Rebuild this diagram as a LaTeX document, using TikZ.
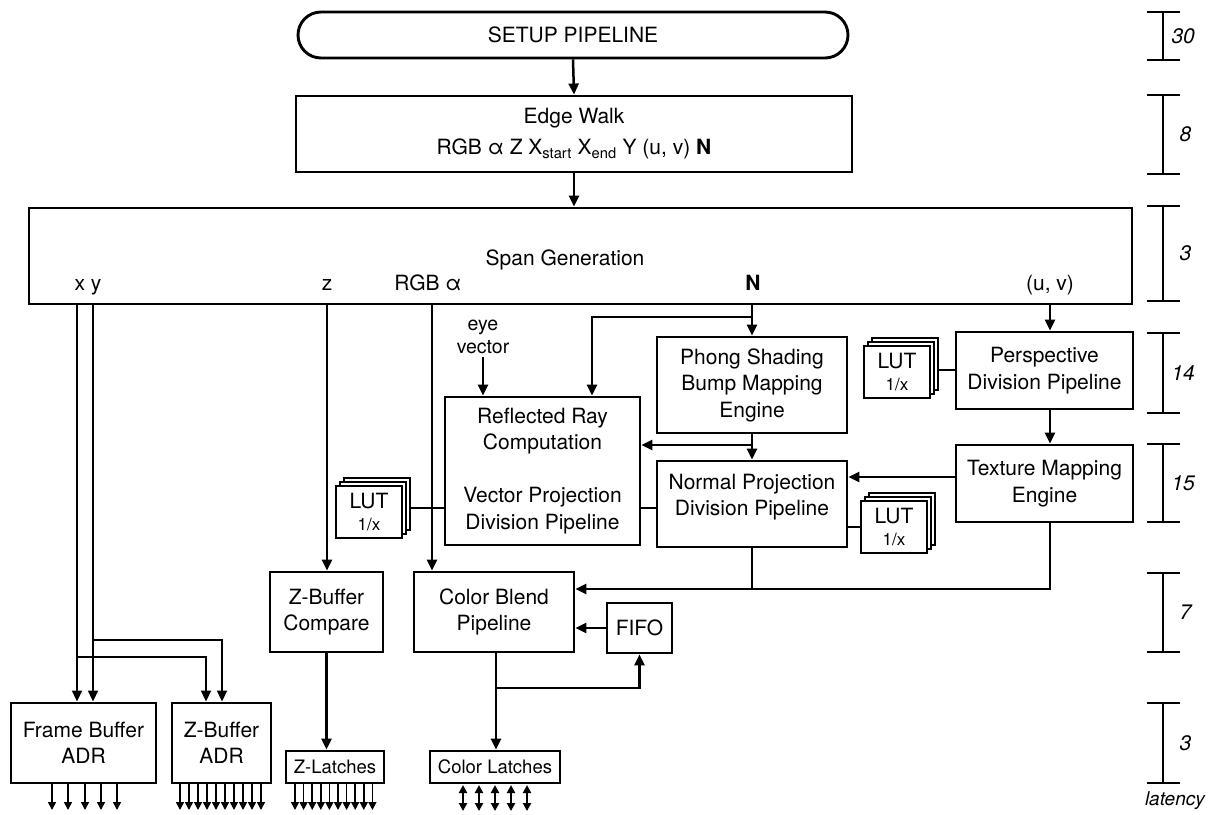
\documentclass[tikz,border=0pt]{standalone}
\usepackage{fontspec}
\setmainfont{TeX Gyre Heros}
\usetikzlibrary{arrows.meta}
\newcommand{\fmain}{\fontsize{21}{26.5}\selectfont}
\newcommand{\fedge}{\fontsize{21}{31}\selectfont}
\newcommand{\flatch}{\fontsize{18.5}{22}\selectfont}
\newcommand{\feye}{\fontsize{19.5}{23}\selectfont}
\newcommand{\flutsmall}{\fontsize{17}{18}\selectfont}
\newcommand{\flatency}{\fontsize{21}{24}\selectfont\itshape}
\newcommand{\flatword}{\fontsize{19}{22}\selectfont\itshape}
\tikzset{
  box/.style={draw, line width=2.9pt, fill=white, inner sep=0pt, align=center, font=\fmain},
  conn/.style={line width=2.5pt},
  arr/.style={conn, -{Triangle[length=11pt,width=10pt]}},
  thinl/.style={line width=1.8pt},
  tarr/.style={thinl, -{Triangle[length=11pt,width=10pt]}},
  sarr/.style={line width=1.6pt, -{Triangle[length=8pt,width=8pt]}},
  darr/.style={line width=2pt, {Triangle[length=8pt,width=8pt]}-{Triangle[length=8pt,width=8pt]}},
  lutbox/.style={draw, line width=2.4pt, fill=white, minimum width=66pt, minimum height=52pt, inner sep=0pt, align=center, font=\fmain},
  latbar/.style={line width=2.2pt},
  latnum/.style={font=\flatency, anchor=west},
  lbl/.style={font=\fmain, anchor=base}
}
\begin{document}
\begin{tikzpicture}[x=1pt,y=-1pt]
\useasboundingbox (0,0) rectangle (1209,814);

% ---------- boxes ----------
\node[box, minimum width=550pt, minimum height=46pt, rounded corners=23pt] (setup) at (573,35) {SETUP PIPELINE};
\node[box, minimum width=556pt, minimum height=76pt, font=\fedge] (edge) at (574,134) {Edge Walk\\RGB α Z X\textsubscript{start} X\textsubscript{end} Y (u, v) \textbf{N}};
\node[box, minimum width=1103pt, minimum height=96pt] (span) at (580.5,256) {};
\node[lbl] (spant) at (565,265) {Span Generation};
\node[lbl] (lxy) at (88,290) {x y};
\node[lbl] (lz) at (327,290) {z};
\node[lbl] (lrgb) at (428,290) {RGB α};
\node[lbl] (ln) at (753,290) {\textbf{N}};
\node[lbl] (luv) at (1050,290) {(u, v)};

\node[box, minimum width=190pt, minimum height=96pt] (phong) at (752,385) {Phong Shading\\Bump Mapping\\Engine};
\node[box, minimum width=195pt, minimum height=148pt] (rr) at (542.5,471) {Reflected Ray\\Computation\\[26.5pt]Vector Projection\\Division Pipeline};
\node[box, minimum width=190pt, minimum height=86pt] (np) at (752,504) {};
\node[font=\fmain, align=center] (npt) at (752,497) {Normal Projection\\Division Pipeline};
\node[box, minimum width=177pt, minimum height=77pt] (persp) at (1044.5,370.5) {Perspective\\Division Pipeline};
\node[box, minimum width=177pt, minimum height=77pt] (tex) at (1044.5,483.5) {Texture Mapping\\Engine};
\node[box, minimum width=113pt, minimum height=80pt] (zbc) at (326.5,612) {Z-Buffer\\Compare};
\node[box, minimum width=160pt, minimum height=80pt] (cb) at (494,612) {Color Blend\\Pipeline};
\node[box, minimum width=65pt, minimum height=50pt] (fifo) at (639.5,628) {FIFO};
\node[box, minimum width=145pt, minimum height=80pt] (fb) at (83.5,743) {Frame Buffer\\ADR};
\node[box, minimum width=99pt, minimum height=80pt] (zba) at (221.5,743) {Z-Buffer\\ADR};
\node[box, minimum width=98pt, minimum height=32pt, font=\flatch] (zl) at (335,767) {Z-Latches};
\node[box, minimum width=130pt, minimum height=32pt, font=\flatch] (cl) at (495,767) {Color Latches};

\node[font=\feye, align=center] (eye) at (483,337) {eye\\vector};

% ---------- LUT stacks ----------
\node[lutbox] (l1c) at (377,504) {};
\node[lutbox] (l1b) at (373,508) {};
\node[lutbox] (l1) at (369,512) {LUT\\[-4pt]{\flutsmall 1/x}};
\node[lutbox] (l2c) at (902,519) {};
\node[lutbox] (l2b) at (898,523) {};
\node[lutbox] (l2) at (894,527) {LUT\\[-4pt]{\flutsmall 1/x}};
\node[lutbox] (l3c) at (905,364) {};
\node[lutbox] (l3b) at (901,368) {};
\node[lutbox] (l3) at (897,372) {LUT\\[-4pt]{\flutsmall 1/x}};

% ---------- coordinates ----------
\coordinate (xs) at (77,304);
\coordinate (ys) at (93,304);
\coordinate (xb) at (77,657);
\coordinate (yb) at (93,640);
\coordinate (zs) at (327,304);
\coordinate (rgbs) at (432,304);
\coordinate (ns) at (752,304);
\coordinate (nb) at (752,317);
\coordinate (pb) at (752,445);
\coordinate (uvs) at (1050,304);
\coordinate (jn) at (752,589);
\coordinate (fbk) at (496,688);

% ---------- connectors ----------
\draw[arr] (setup.south) -- (edge.north);
\draw[arr] (edge.south) -- (edge.south |- span.north);

\draw[tarr] (xs) -- (xs |- fb.north);
\draw[tarr] (ys) -- (ys |- fb.north);
\draw[tarr] (xb) -| ([xshift=-15.5pt]zba.north);
\draw[tarr] (yb) -| ([xshift=0.5pt]zba.north);

\draw[arr] (zs) -- (zs |- zbc.north);
\draw[arr] (rgbs) -- (rgbs |- cb.north);
\draw[arr] (ns) -- (phong.north);
\draw[arr] (nb) -| ([xshift=49.5pt]rr.north);
\draw[arr] (eye.south) -- (eye.south |- rr.north);
\draw[arr] (phong.south) -- (np.north);
\draw[arr] (pb) -- (pb -| rr.east);
\draw[conn] ([yshift=-37pt]rr.east) -- ([yshift=-37pt]rr.east -| np.west);
\draw[conn] (l1c.east |- 0,508) -- (rr.west |- 0,508);
\draw[conn] (np.east |- l2.west) -- (l2.west);
\draw[conn] (l3c.east |- 0,370) -- (persp.west |- 0,370);

\draw[arr] (uvs) -- (uvs |- persp.north);
\draw[arr] (uvs |- persp.south) -- (uvs |- tex.north);
\draw[arr] ([yshift=6.5pt]tex.west) -- ([yshift=6.5pt]tex.west -| np.east);
\draw[arr] (uvs |- tex.south) |- ([yshift=23pt]cb.east);
\draw[conn] (np.south) -- (jn);
\draw[arr] (fifo.west) -- (fifo.west -| cb.east);
\draw[arr] ([xshift=2pt]cb.south) -- ([xshift=2pt]cb.south |- cl.north);
\draw[arr] (fbk) -| (fifo.south);
\draw[arr] (zbc.south) -- (zbc.south |- zl.north);

% ---------- output buses ----------
\foreach \x in {52,68,85,101,117} \draw[sarr] (\x,783) -- (\x,810);
\foreach \i in {0,...,9} \draw[sarr] (180+9*\i,783) -- (180+9*\i,810);
\foreach \i in {0,...,9} \draw[sarr] (295+8.6*\i,783) -- (295+8.6*\i,810);
\foreach \x in {463,479,495,511,527} \draw[darr] (\x,785) -- (\x,811);

% ---------- latency scale ----------
\foreach \a/\b/\t/\m/\xx in {12/60/30/36/1168, 95/174/8/134/1176, 206/301/3/253/1176, 333/413/14/373/1168, 444/522/15/483/1168, 573/652/7/612/1176, 703/783/3/743/1176} {
  \draw[latbar] (1147,\a) -- (1180,\a) (1163,\a) -- (1163,\b) (1147,\b) -- (1180,\b);
  \node[latnum] at (\xx,\m) {\t};
}
\node[font=\flatword, anchor=east, inner sep=0pt] (latency) at (1205,801) {latency};
\end{tikzpicture}
\end{document}
